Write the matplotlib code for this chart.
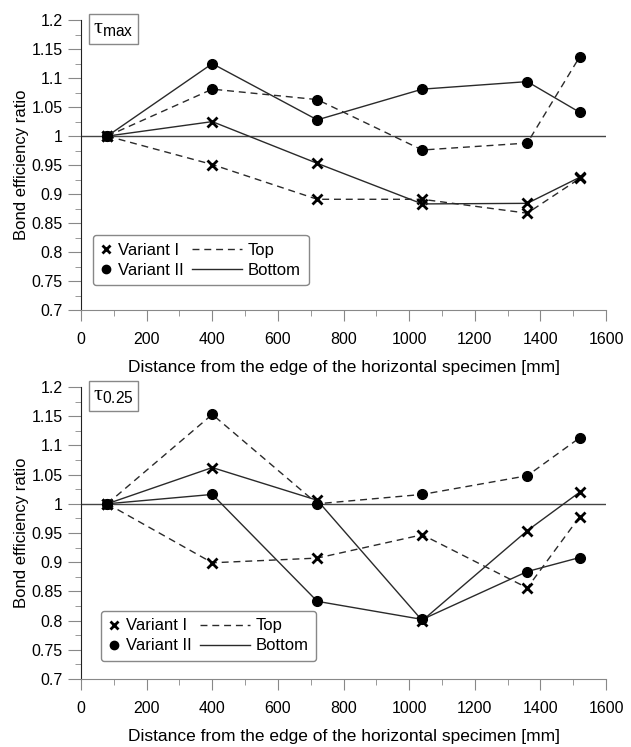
import numpy as np
import matplotlib
matplotlib.use("Agg")
import matplotlib.pyplot as plt
from matplotlib.lines import Line2D
from matplotlib.legend_handler import HandlerLine2D
from matplotlib.ticker import MultipleLocator, FuncFormatter

plt.rcParams['font.family'] = ['Liberation Sans', 'DejaVu Sans']
plt.rcParams['mathtext.fontset'] = 'custom'
plt.rcParams['mathtext.rm'] = 'Liberation Serif'
plt.rcParams['mathtext.sf'] = 'Liberation Sans'

# distance from the edge [mm]
distance = [80, 400, 720, 1040, 1360, 1520]

# tau_max panel
tmax_v1_top = [1.0, 0.951, 0.891, 0.891, 0.867, 0.927]
tmax_v1_bottom = [1.0, 1.025, 0.953, 0.883, 0.884, 0.929]
tmax_v2_top = [1.0, 1.081, 1.063, 0.976, 0.988, 1.137]
tmax_v2_bottom = [1.0, 1.125, 1.028, 1.081, 1.094, 1.041]

# tau_0.25 panel
t025_v1_top = [1.0, 0.899, 0.907, 0.947, 0.856, 0.978]
t025_v1_bottom = [1.0, 1.062, 1.006, 0.800, 0.954, 1.020]
t025_v2_top = [1.0, 1.153, 1.000, 1.016, 1.048, 1.113]
t025_v2_bottom = [1.0, 1.016, 0.833, 0.802, 0.884, 0.908]

panel_labels = [r'$\mathrm{\tau}_{\mathsf{max}}$', r'$\mathrm{\tau}_{\mathsf{0.25}}$']
ylabel = 'Bond efficiency ratio'
xlabel = 'Distance from the edge of the horizontal specimen [mm]'

LINE_C = '#2a2a2a'
DASH = (0, (5, 3.5))


class LongLine(HandlerLine2D):
    # stretch the line sample to the left so the line column looks longer
    def get_xdata(self, legend, xdescent, ydescent, width, height, fontsize):
        xd = np.array([-xdescent - 2.3 * fontsize, -xdescent + width])
        return xd, xd


def draw_panel(ax, v1_top, v1_bot, v2_top, v2_bot, label, leg_pos):
    ax.axhline(1.0, color='#444444', lw=1.0, zorder=1)
    ax.plot(distance, v1_top, color=LINE_C, lw=1.0, ls=DASH, marker='x',
            ms=7.5, mew=2.0, mec='black', zorder=3)
    ax.plot(distance, v1_bot, color=LINE_C, lw=1.0, ls='-', marker='x',
            ms=7.5, mew=2.0, mec='black', zorder=3)
    ax.plot(distance, v2_top, color=LINE_C, lw=1.0, ls=DASH, marker='o',
            ms=7, mfc='black', mec='black', zorder=3)
    ax.plot(distance, v2_bot, color=LINE_C, lw=1.0, ls='-', marker='o',
            ms=7, mfc='black', mec='black', zorder=3)

    ax.set_xlim(0, 1600)
    ax.set_ylim(0.7, 1.2)
    ax.xaxis.set_major_locator(MultipleLocator(200))
    ax.xaxis.set_minor_locator(MultipleLocator(100))
    ax.yaxis.set_major_locator(MultipleLocator(0.05))
    ax.yaxis.set_minor_locator(MultipleLocator(0.025))
    ax.yaxis.set_major_formatter(FuncFormatter(lambda v, p: '%g' % round(v, 3)))

    for s in ['top', 'right']:
        ax.spines[s].set_visible(False)
    ax.spines['left'].set_color('#222222')
    ax.spines['bottom'].set_color('#888888')
    ax.tick_params(axis='y', which='major', direction='out', length=9.5,
                   color='#888888', labelsize=11.5, pad=3.5)
    ax.tick_params(axis='y', which='minor', direction='out', length=4,
                   color='#888888')
    ax.tick_params(axis='x', which='major', direction='out', length=8,
                   color='#888888', labelsize=11.5, pad=8)
    ax.tick_params(axis='x', which='minor', direction='out', length=4,
                   color='#888888')
    ax.set_ylabel(ylabel, fontsize=12, labelpad=2)
    ax.set_xlabel(xlabel, fontsize=12.5, labelpad=9)

    ax.text(0.023, 1.006, label, transform=ax.transAxes, fontsize=16,
            ha='left', va='top',
            bbox=dict(boxstyle='square,pad=0.2', fc='white', ec='#888888', lw=1.0))

    handles = [
        Line2D([], [], ls='none', marker='x', ms=6, mew=2.0, color='black'),
        Line2D([], [], ls='none', marker='o', ms=6, color='black'),
        Line2D([], [], ls=DASH, lw=1.0, color=LINE_C),
        Line2D([], [], ls='-', lw=1.0, color=LINE_C),
    ]
    labels = ['Variant I', 'Variant II', 'Top', 'Bottom']
    leg = ax.legend(handles, labels, ncol=2, loc='lower left',
                    bbox_to_anchor=leg_pos, borderaxespad=0, fontsize=12,
                    handlelength=0.7, handletextpad=0.35, columnspacing=2.8,
                    labelspacing=0.3, borderpad=0.45, frameon=True,
                    fancybox=True,
                    handler_map={handles[2]: LongLine(), handles[3]: LongLine()})
    frame = leg.get_frame()
    frame.set_edgecolor('#888888')
    frame.set_linewidth(1.0)
    frame.set_alpha(1.0)


fig = plt.figure(figsize=(6.31, 7.47), dpi=100)
ax1 = fig.add_axes([0.1284, 0.585, 0.832, 0.388])
ax2 = fig.add_axes([0.1284, 0.091, 0.832, 0.391])

draw_panel(ax1, tmax_v1_top, tmax_v1_bottom, tmax_v2_top, tmax_v2_bottom,
           panel_labels[0], (0.023, 0.086))
draw_panel(ax2, t025_v1_top, t025_v1_bottom, t025_v2_top, t025_v2_bottom,
           panel_labels[1], (0.038, 0.062))

fig.savefig('out.png', dpi=100)
